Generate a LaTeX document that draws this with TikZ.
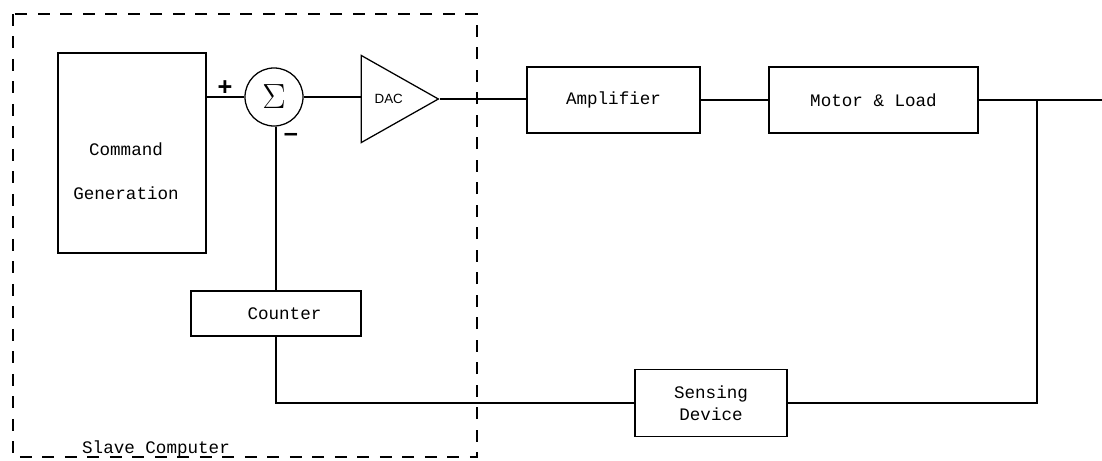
\documentclass[tikz,border=0pt]{standalone}
\usepackage{fontspec}
\usepackage{tikz}
\usetikzlibrary{positioning,calc,shapes.geometric}
\newfontfamily\typew{Liberation Mono}
\newfontfamily\dacfont{Liberation Sans}
\tikzset{
  wire/.style={line width=0.9pt,black},
  block/.style={draw,line width=0.9pt,inner sep=0pt,align=center,
    font=\typew\fontsize{12.5}{16}\selectfont},
  sumnode/.style={draw,circle,line width=0.9pt,minimum size=1.45cm,inner sep=0pt,
    font=\fontsize{32}{32}\selectfont},
  dacamp/.style={draw,isosceles triangle,isosceles triangle stretches,
    line width=0.9pt,inner sep=0pt,minimum height=1.925cm,minimum width=2.175cm,
    font=\dacfont\fontsize{9.5}{11}\selectfont},
  slavebox/.style={line width=0.9pt,dash pattern=on 8.5pt off 7.5pt},
  tag/.style={font=\typew\fontsize{12.5}{16}\selectfont},
  sign/.style={font=\dacfont\bfseries\fontsize{18}{18}\selectfont,inner sep=0pt}
}
\begin{document}
\begin{tikzpicture}[x=0.025cm,y=-0.025cm]
  \useasboundingbox (0,0) rectangle (1102,460);
  % slave computer frame
  \draw[slavebox] (13,14) rectangle (477,457);
  \node[tag] (slavetxt) at (156,449) {Slave Computer};
  % blocks
  \node[block,minimum width=3.7cm,minimum height=5cm] (cmd) at (132,153) {};
  \node[tag,align=center] (cmdtxt) at (126,171) {Command\\[15pt]Generation};
  \node[sumnode] (sum) at (274,97) {$\Sigma$};
  \node[dacamp,anchor=apex] (dac) at (440,99) {DAC};
  \node[block,minimum width=4.325cm,minimum height=1.65cm] (amp) at (613.5,100) {Amplifier};
  \node[block,minimum width=5.225cm,minimum height=1.65cm] (motor) at (873.5,100) {Motor \& Load};
  \node[block,minimum width=3.8cm,minimum height=1.675cm] (sense) at (711,403) {Sensing\\Device};
  \node[block,minimum width=4.25cm,minimum height=1.125cm] (cnt) at (276,313.5) {\hspace*{12pt}Counter};
  \coordinate (tap) at (1037,100);
  \coordinate (out) at (1102,100);
  % signs
  \node[sign] (plus) at (225,88) {+};
  \node[sign] (minus) at (291,137) {\textendash};
  % connectors
  \draw[wire] (sum.west) -- (sum.west -| cmd.east);
  \draw[wire] (sum.east) -- (dac.west |- sum.east);
  \draw[wire] (dac.apex) -- (amp.west |- dac.apex);
  \draw[wire] (amp.east) -- (motor.west);
  \draw[wire] (motor.east) -- (out);
  \draw[wire] (tap) |- (sense.east);
  \draw[wire] (sense.west) -| (cnt.south);
  \draw[wire] (cnt.north) -- (cnt.north |- sum.south);
\end{tikzpicture}
\end{document}
